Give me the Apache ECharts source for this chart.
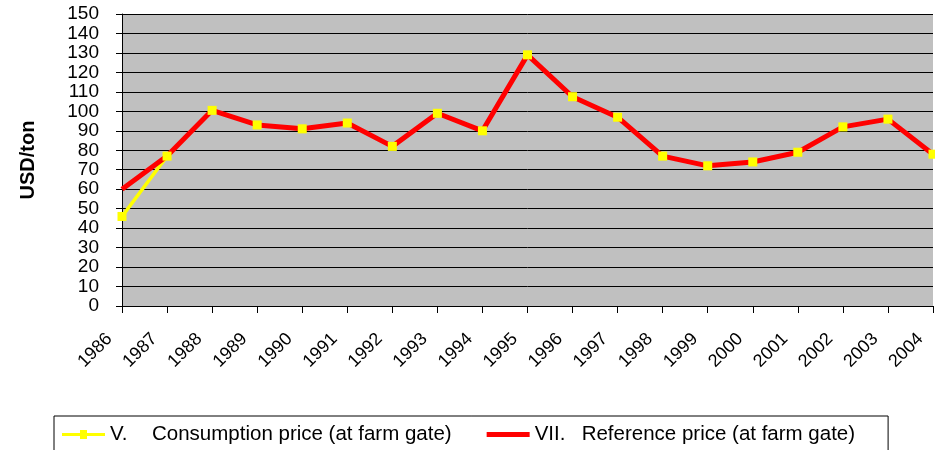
<!DOCTYPE html>
<html>
<head>
<meta charset="utf-8">
<script src="https://cdn.jsdelivr.net/npm/echarts@6/dist/echarts.min.js"></script>
<style>
  html, body { margin: 0; padding: 0; background: #fff; }
  #chart { width: 935px; height: 450px; }
</style>
</head>
<body>
<div id="chart"></div>
<script>
var years = ['1986', '1987', '1988', '1989', '1990', '1991', '1992', '1993', '1994', '1995',
             '1996', '1997', '1998', '1999', '2000', '2001', '2002', '2003', '2004'];
// V. consumption price (yellow)
var consumption = [46, 77, 100.5, 93, 91, 94, 82, 99, 90, 129, 107.5, 97, 77, 72, 74, 79, 92, 96, 78];
// VII. reference price (red)
var reference = [60, 77, 100.5, 93, 91, 94, 82, 99, 90, 129, 107.5, 97, 77, 72, 74, 79, 92, 96, 78];

var nameCons = 'V. Consumption price (at farm gate)';
var nameRef = 'VII. Reference price (at farm gate)';
var font = 'Liberation Sans, Arial, sans-serif';

// legend icons: yellow line with a square marker, plain thick red line
var iconCons = 'path://M0,3 H18 V0 H25 V3 H43 V6 H25 V9 H18 V6 H0 Z';
var iconRef = 'path://M0,0 H43 V5 H0 Z';

var chart = echarts.init(document.getElementById('chart'));

var option = {
    backgroundColor: '#fff',
    animation: false,
    textStyle: { fontFamily: font },
    grid: {
        left: 122,
        right: 2,
        top: 14,
        bottom: 144,
        containLabel: false,
        outerBoundsMode: 'none',
        show: true,
        backgroundColor: '#c0c0c0',
        borderWidth: 0
    },
    legend: {
        data: [
            { name: nameCons, icon: iconCons, itemStyle: { color: '#ffff00', borderWidth: 0 } },
            { name: nameRef, icon: iconRef, itemStyle: { color: '#ff0000', borderWidth: 0 } }
        ],
        left: 54,
        top: 416,
        padding: [8, 33, 8, 8],
        itemGap: 35,
        itemWidth: 43,
        itemHeight: 9,
        symbolKeepAspect: true,
        borderColor: '#000',
        borderWidth: 1,
        formatter: function (name) {
            var i = name.indexOf(' ');
            var tag = i > 2 ? 'q' : 'p';
            return '{' + tag + '|' + name.slice(0, i) + '}' + name.slice(i + 1);
        },
        textStyle: {
            fontSize: 20.5,
            color: '#000',
            fontFamily: font,
            rich: {
                p: { width: 42, fontSize: 20.5, fontFamily: font, color: '#000' },
                q: { width: 47, fontSize: 20.5, fontFamily: font, color: '#000' }
            }
        }
    },
    xAxis: {
        type: 'category',
        data: years,
        boundaryGap: false,
        axisLine: { lineStyle: { color: '#000', width: 1 } },
        axisTick: { show: true, length: 7, interval: 0, lineStyle: { color: '#000' } },
        axisLabel: {
            interval: 0,
            rotate: 45,
            margin: 43,
            verticalAlign: 'bottom',
            lineHeight: 36,
            fontSize: 18,
            color: '#000',
            fontFamily: font
        },
        splitLine: { show: false }
    },
    yAxis: {
        type: 'value',
        min: 0,
        max: 150,
        interval: 10,
        name: 'USD/ton',
        nameLocation: 'middle',
        nameRotate: 90,
        nameGap: 84,
        nameTextStyle: { fontSize: 20, fontWeight: 'bold', color: '#000', fontFamily: font },
        axisLine: { show: true, lineStyle: { color: '#000', width: 1 } },
        axisTick: { show: true, length: 6, lineStyle: { color: '#000' } },
        axisLabel: { fontSize: 19, color: '#000', margin: 23, fontFamily: font },
        splitLine: { show: true, lineStyle: { color: '#000', width: 1 } }
    },
    series: [
        {
            name: nameCons,
            type: 'line',
            data: consumption,
            z: 2,
            symbol: 'rect',
            symbolSize: 8,
            itemStyle: { color: '#ffff00' },
            lineStyle: { color: '#ffff00', width: 3.5 }
        },
        {
            name: nameRef,
            type: 'line',
            data: reference,
            z: 3,
            symbol: 'none',
            itemStyle: { color: '#ff0000' },
            lineStyle: { color: '#ff0000', width: 5 }
        },
        {
            name: 'consumption markers',
            type: 'scatter',
            data: consumption,
            z: 4,
            silent: true,
            symbol: 'rect',
            symbolSize: 9,
            itemStyle: { color: '#ffff00', opacity: 1 }
        }
    ]
};

chart.setOption(option);
</script>
</body>
</html>
